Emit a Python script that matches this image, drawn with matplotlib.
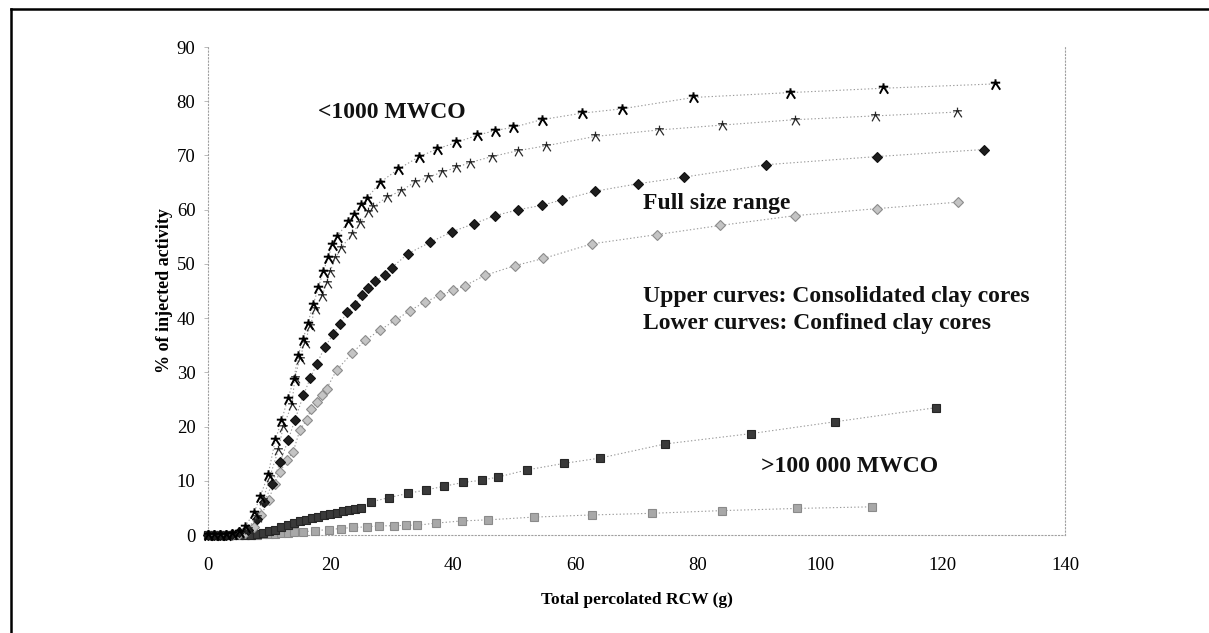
import matplotlib
matplotlib.use("Agg")
import matplotlib.pyplot as plt
from matplotlib.lines import Line2D
from matplotlib.path import Path

# <1000 MWCO, consolidated clay cores (upper curve)
small_cons_x = [0, 1, 2, 3, 4, 5, 6, 7.5, 8.5, 9.8, 11, 12, 13, 14, 14.7, 15.5, 16.3, 17.2,
                18, 18.8, 19.6, 20.3, 21.1, 22.8, 23.8, 25, 25.9, 28.1, 31.1, 34.4, 37.4,
                40.6, 43.9, 46.9, 49.9, 54.5, 61.1, 67.6, 79.3, 95.1, 110.3, 128.6]
small_cons_y = [0, 0, 0, 0, 0.2, 0.6, 1.5, 4, 7, 11, 17.5, 21, 25, 28.5, 33, 36, 39, 42.5,
                45.5, 48.5, 51, 53.5, 55, 57.7, 59, 60.8, 62, 65, 67.5, 69.7, 71.2,
                72.4, 73.7, 74.6, 75.2, 76.6, 77.8, 78.6, 80.7, 81.6, 82.4, 83.2]

# <1000 MWCO, confined clay cores
small_conf_x = [0, 1, 2, 3, 4, 5, 6.5, 8, 9, 10.1, 11.5, 12.3, 13.7, 14.2, 15.0, 15.8, 16.7,
                17.5, 18.6, 19.4, 19.9, 20.8, 21.8, 23.5, 24.8, 26.2, 27.0, 29.2, 31.6,
                33.8, 36.0, 38.2, 40.6, 42.8, 46.4, 50.7, 55.3, 63.2, 73.6, 83.9, 95.9,
                109.0, 122.3]
small_conf_y = [0, 0, 0, 0, 0.1, 0.4, 1.2, 3.4, 6.4, 10.7, 15.7, 20, 24, 29, 32.5, 35.5, 38.5,
                41.7, 44, 46.5, 48.5, 51, 53, 55.5, 57.5, 59.5, 60.5, 62.3, 63.5,
                65.1, 66.0, 66.9, 67.8, 68.7, 69.8, 70.9, 71.8, 73.5, 74.7, 75.6, 76.6,
                77.3, 78.0]

# full size range, consolidated
full_cons_x = [0, 1, 2, 3, 4, 5, 6.5, 8, 9.2, 10.5, 11.8, 13.1, 14.2, 15.6, 16.7, 17.8, 19.1,
               20.5, 21.6, 22.7, 24.0, 25.1, 26.2, 27.3, 28.9, 30.0, 32.7, 36.3, 39.8,
               43.4, 46.9, 50.7, 54.5, 57.8, 63.2, 70.3, 77.7, 91.2, 109.3, 126.7]
full_cons_y = [0, 0, 0, 0, 0.2, 0.5, 1, 3, 6, 9.5, 13.5, 17.5, 21.2, 25.8, 28.9, 31.6, 34.7,
               37.1, 39.0, 41.1, 42.4, 44.2, 45.5, 46.8, 48.0, 49.3, 51.9, 54.0, 55.9,
               57.4, 58.9, 60.0, 60.8, 61.8, 63.4, 64.8, 66.0, 68.3, 69.8, 71.1]

# full size range, confined
full_conf_x = [0, 1, 2, 3, 4, 5, 6, 7.5, 8.7, 9.9, 10.9, 11.8, 12.9, 13.9, 15.0, 16.1, 16.9,
               17.8, 18.6, 19.4, 21.0, 23.5, 25.7, 28.1, 30.6, 33.0, 35.5, 37.9, 40.1,
               42.0, 45.3, 50.2, 54.8, 62.7, 73.3, 83.7, 95.9, 109.3, 122.6]
full_conf_y = [0, 0, 0, 0, 0, 0.1, 0.3, 1.5, 3.7, 6.4, 9.5, 11.7, 13.8, 15.3, 19.3, 21.2, 23.3,
               24.5, 25.8, 27.0, 30.4, 33.5, 35.9, 37.8, 39.6, 41.4, 43.0, 44.2, 45.1,
               46.0, 47.9, 49.7, 51.0, 53.7, 55.4, 57.1, 58.9, 60.2, 61.4]

# >100 000 MWCO, consolidated
large_cons_x = [0, 1, 2, 3, 4, 5, 6, 7, 8, 9, 10, 11, 12, 13, 14, 15, 16, 17, 18, 19, 20,
                21, 22, 23, 24, 25, 26.6, 29.6, 32.7, 35.6, 38.6, 41.7, 44.7, 47.4, 52.1,
                58.1, 64.1, 74.7, 88.7, 102.5, 119.0]
large_cons_y = [0, 0, 0, 0, 0, 0, 0, 0, 0.1, 0.4, 0.7, 1.0, 1.4, 1.8, 2.2, 2.5, 2.8, 3.1,
                3.4, 3.7, 3.9, 4.1, 4.4, 4.6, 4.8, 5.0, 6.1, 6.9, 7.7, 8.3, 9.0, 9.7, 10.1,
                10.7, 12.0, 13.2, 14.2, 16.8, 18.7, 20.9, 23.5]

# >100 000 MWCO, confined
large_conf_x = [0, 1, 2, 3, 4, 5, 6, 7, 8, 9, 10, 11, 12, 13, 14, 15.6, 17.5, 19.7, 21.7,
                23.7, 25.9, 28.0, 30.4, 32.4, 34.2, 37.3, 41.5, 45.8, 53.2, 62.7, 72.5,
                83.9, 96.2, 108.4]
large_conf_y = [0, 0, 0, 0, 0, 0, 0, 0, 0.05, 0.1, 0.15, 0.2, 0.3, 0.4, 0.5, 0.6, 0.8, 1.0,
                1.2, 1.4, 1.5, 1.7, 1.7, 1.8, 1.8, 2.2, 2.6, 2.8, 3.3, 3.7, 4.0, 4.5, 4.9,
                5.2]

X_TICKS = [0, 20, 40, 60, 80, 100, 120, 140]
Y_TICKS = [0, 10, 20, 30, 40, 50, 60, 70, 80, 90]

SERIF = ["Liberation Serif", "DejaVu Serif"]

# the scanned "star" marker looks like a little 大 shape
STAR = Path(
    [(-0.9, 0.35), (0.9, 0.35), (0.0, 1.0), (0.0, 0.35), (-0.7, -1.0), (0.0, 0.35), (0.9, -1.0)],
    [Path.MOVETO, Path.LINETO, Path.MOVETO, Path.LINETO, Path.LINETO, Path.MOVETO, Path.LINETO],
)


def draw_series(ax, x, y, marker, ms, face, edge, mew, zorder):
    ax.plot(x, y, color="#9a9a9a", linestyle=(0, (1.2, 2.0)), linewidth=0.8,
            zorder=zorder - 1, clip_on=False)
    ax.plot(x, y, linestyle="none", marker=marker, markersize=ms,
            markerfacecolor=face, markeredgecolor=edge, markeredgewidth=mew,
            zorder=zorder, clip_on=False)


def main():
    fig = plt.figure(figsize=(12.09, 6.33), dpi=100, facecolor="white")
    ax = fig.add_axes([0.1720, 0.1548, 0.7089, 0.7709])

    draw_series(ax, large_conf_x, large_conf_y, "s", 6, "#a8a8a8", "#8a8a8a", 0.8, 3)
    draw_series(ax, large_cons_x, large_cons_y, "s", 6, "#3a3a3a", "#262626", 0.8, 4)
    draw_series(ax, full_conf_x, full_conf_y, "D", 4.6, "#c4c4c4", "#8c8c8c", 0.8, 5)
    draw_series(ax, full_cons_x, full_cons_y, "D", 4.6, "#1e1e1e", "#111111", 0.8, 6)
    draw_series(ax, small_conf_x, small_conf_y, STAR, 7, "none", "#2a2a2a", 0.9, 7)
    draw_series(ax, small_cons_x, small_cons_y, STAR, 7.5, "none", "#000000", 1.4, 8)

    ax.set_xlim(0, 140)
    ax.set_ylim(0, 90)
    ax.set_xticks(X_TICKS)
    ax.set_yticks(Y_TICKS)
    ax.set_xticklabels([str(v) for v in X_TICKS], fontfamily=SERIF, fontsize=13.5)
    ax.set_yticklabels([str(v) for v in Y_TICKS], fontfamily=SERIF, fontsize=13.5)
    ax.tick_params(axis="x", length=0, pad=16)
    ax.tick_params(axis="y", length=3, width=0.6, color="#b0b0b0", pad=6)

    for side in ("left", "bottom", "right"):
        ax.spines[side].set_linestyle((0, (1, 2)))
        ax.spines[side].set_color("#a0a0a0")
        ax.spines[side].set_linewidth(0.8)
    ax.spines["top"].set_visible(False)

    ax.set_xlabel("Total percolated RCW (g)", fontfamily=SERIF, fontsize=12.5,
                  fontweight="bold", labelpad=13)
    ax.set_ylabel("% of injected activity", fontfamily=SERIF, fontsize=13,
                  fontweight="bold", labelpad=3)

    note = dict(fontfamily=SERIF, fontsize=17, fontweight="bold", ha="left",
                va="center", color="#111111", zorder=10)
    ax.text(18.0, 78.0, "<1000 MWCO", **note)
    ax.text(71.1, 61.1, "Full size range", **note)
    ax.text(71.1, 44.0, "Upper curves: Consolidated clay cores", **note)
    ax.text(71.1, 39.0, "Lower curves: Confined clay cores", **note)
    ax.text(90.4, 12.7, ">100 000 MWCO", **note)

    # scanned page frame: top and left edges
    fig.add_artist(Line2D([0.009, 1.0], [0.985, 0.985], color="black", linewidth=1.8,
                          transform=fig.transFigure))
    fig.add_artist(Line2D([0.009, 0.009], [0.0, 0.985], color="black", linewidth=1.8,
                          transform=fig.transFigure))

    fig.savefig("out.png", dpi=100, facecolor="white")


if __name__ == "__main__":
    main()
